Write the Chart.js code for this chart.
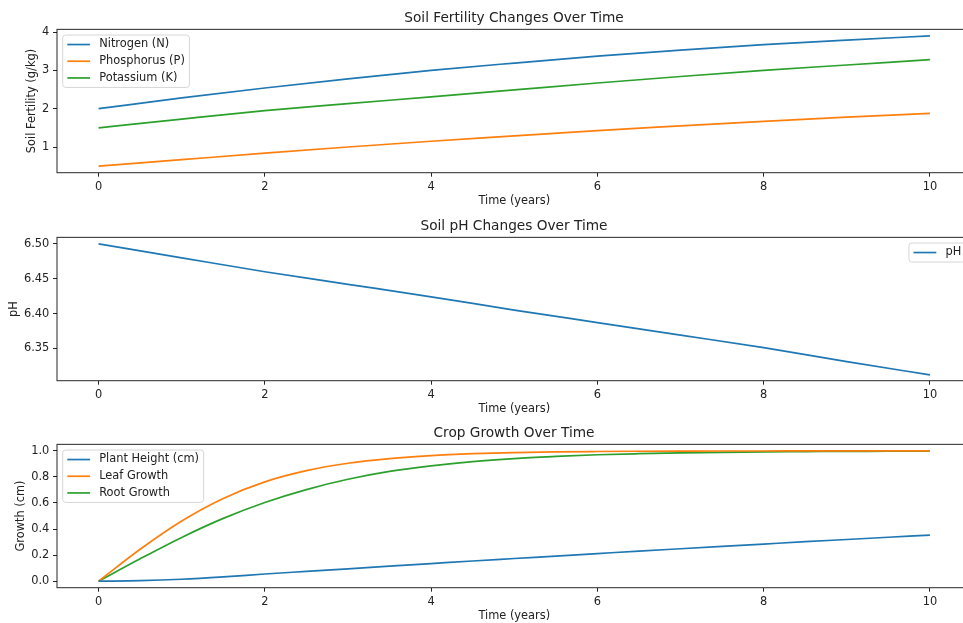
<!DOCTYPE html>
<html>
<head>
<meta charset="utf-8">
<script src="https://cdn.jsdelivr.net/npm/chart.js@4.4.1/dist/chart.umd.min.js"></script>
<style>
  html, body { margin: 0; padding: 0; background: #fff; overflow: hidden; width: 963px; height: 623px; }
  canvas { position: absolute; left: 0; }
</style>
</head>
<body>
<canvas id="fertChart" width="1028" height="208" style="top:0px"></canvas>
<canvas id="phChart" width="1028" height="208" style="top:208px"></canvas>
<canvas id="growthChart" width="1028" height="208" style="top:415px"></canvas>
<script>
// ---- data ----
const yearsCoarse = [0, 1, 2, 3, 4, 5, 6, 7, 8, 9, 10];
const yearsFine = [0, 0.5, 1, 1.5, 2, 2.5, 3, 3.5, 4, 4.5, 5, 5.5, 6, 6.5, 7, 7.5, 8, 8.5, 9, 9.5, 10];

const nitrogen   = [2.00, 2.28, 2.54, 2.78, 3.00, 3.19, 3.37, 3.53, 3.67, 3.79, 3.90];
const phosphorus = [0.50, 0.67, 0.84, 1.00, 1.15, 1.29, 1.43, 1.55, 1.67, 1.78, 1.88];
const potassium  = [1.50, 1.73, 1.95, 2.13, 2.31, 2.49, 2.67, 2.84, 3.00, 3.14, 3.28];

const soilPH = [6.500, 6.480, 6.460, 6.442, 6.424, 6.405, 6.387, 6.369, 6.351, 6.331, 6.312];

const plantHeight = [0, 0.004, 0.015, 0.033, 0.055, 0.075, 0.095, 0.115, 0.135, 0.155, 0.174,
                     0.193, 0.212, 0.231, 0.249, 0.267, 0.285, 0.303, 0.320, 0.337, 0.354];
const leafGrowth  = [0, 0.245, 0.462, 0.635, 0.762, 0.848, 0.905, 0.941, 0.964, 0.978, 0.987,
                     0.992, 0.995, 0.997, 0.998, 0.999, 0.999, 1.0, 1.0, 1.0, 1.0];
const rootGrowth  = [0, 0.172, 0.336, 0.482, 0.604, 0.703, 0.782, 0.842, 0.885, 0.918, 0.941,
                     0.957, 0.970, 0.978, 0.984, 0.989, 0.992, 0.994, 0.996, 0.997, 0.998];

const timeTicks = [0, 2, 4, 6, 8, 10];
const fertTicks = [1, 2, 3, 4];
const phTicks = [6.35, 6.40, 6.45, 6.50];
const growthTicks = [0, 0.2, 0.4, 0.6, 0.8, 1.0];

const BLUE = '#1f77b4', ORANGE = '#ff7f0e', GREEN = '#2ca02c';
const FONT = "'DejaVu Sans', sans-serif";
const INK = '#222';
const SPINE = 'rgba(0,0,0,0.85)';

function pts(xs, ys) {
  return xs.map((x, i) => ({ x: x, y: ys[i] }));
}

function line(label, xs, ys, color) {
  return {
    label: label,
    data: pts(xs, ys),
    borderColor: color,
    backgroundColor: color,
    borderWidth: 1.7,
    pointRadius: 0,
    cubicInterpolationMode: 'monotone'
  };
}

// axes frame + matplotlib style legend box
const frameAndLegend = {
  id: 'frameAndLegend',
  afterDatasetsDraw(chart, args, opts) {
    const ctx = chart.ctx, a = chart.chartArea;
    ctx.save();
    ctx.strokeStyle = SPINE;
    ctx.lineWidth = 1;
    ctx.strokeRect(a.left, a.top, a.right - a.left, a.bottom - a.top);

    const sets = chart.data.datasets;
    ctx.font = '11.4px ' + FONT;
    const textW = Math.max(...sets.map(d => ctx.measureText(d.label).width));
    const w = 4.6 + 22.8 + 9.1 + textW + 4.6;
    const h = 19 + (sets.length - 1) * 16.7;
    const left = opts.side === 'right' ? a.right - 5.7 - w : a.left + 5.7;
    const top = a.top + 5.7;

    ctx.beginPath();
    ctx.roundRect(left, top, w, h, 3);
    ctx.fillStyle = 'rgba(255,255,255,0.8)';
    ctx.fill();
    ctx.strokeStyle = '#d6d6d6';
    ctx.lineWidth = 1;
    ctx.stroke();

    sets.forEach((d, i) => {
      const y = top + 9.5 + i * 16.7;
      ctx.strokeStyle = d.borderColor;
      ctx.lineWidth = 1.7;
      ctx.beginPath();
      ctx.moveTo(left + 4.6, y);
      ctx.lineTo(left + 27.4, y);
      ctx.stroke();
      ctx.fillStyle = INK;
      ctx.textBaseline = 'middle';
      ctx.textAlign = 'left';
      ctx.fillText(d.label, left + 36.5, y);
    });
    ctx.restore();
  }
};

function xAxis() {
  return {
    type: 'linear',
    min: -0.5,
    max: 10.5,
    afterBuildTicks: s => { s.ticks = timeTicks.map(v => ({ value: v })); },
    afterFit: s => { s.height = 35.3; },
    grid: { drawOnChartArea: false, drawTicks: true, tickLength: 4, tickColor: SPINE, tickWidth: 1 },
    border: { display: false },
    ticks: { padding: 3.2, color: INK, maxRotation: 0, font: { family: FONT, size: 11.4 } },
    title: { display: true, text: 'Time (years)', color: INK, padding: { top: 0, bottom: 0 },
             font: { family: FONT, size: 11.4 } }
  };
}

function yAxis(title, titlePad, min, max, tickVals, digits) {
  return {
    type: 'linear',
    min: min,
    max: max,
    afterBuildTicks: s => { s.ticks = tickVals.map(v => ({ value: v })); },
    afterFit: s => { s.width = 57; },
    grid: { drawOnChartArea: false, drawTicks: true, tickLength: 4, tickColor: SPINE, tickWidth: 1 },
    border: { display: false },
    ticks: {
      padding: 3.7, color: INK, font: { family: FONT, size: 11.4 },
      callback: v => v.toFixed(digits)
    },
    title: { display: true, text: title, color: INK, padding: { top: titlePad, bottom: 0 },
             font: { family: FONT, size: 11.4 } }
  };
}

// empty right-hand axis: the figure is cut at the right edge, this keeps the
// plot area running past the window while the title stays centred on the axes
const spacerAxis = {
  position: 'right',
  afterFit: s => { s.width = 56.5; },
  grid: { display: false },
  border: { display: false },
  ticks: { display: false }
};

function makeChart(id, title, datasets, y, legendSide) {
  new Chart(document.getElementById(id), {
    type: 'line',
    data: { datasets: datasets },
    options: {
      responsive: false,
      animation: false,
      events: [],
      layout: { padding: 0 },
      scales: { x: xAxis(), y: y, spacer: spacerAxis },
      plugins: {
        legend: { display: false },
        tooltip: { enabled: false },
        title: {
          display: true, text: title, color: INK,
          font: { family: FONT, size: 13.7, weight: 'normal' },
          padding: { top: 10.1, bottom: 2.8 }
        },
        frameAndLegend: { side: legendSide }
      }
    },
    plugins: [frameAndLegend]
  });
}

makeChart('fertChart', 'Soil Fertility Changes Over Time', [
  line('Nitrogen (N)', yearsCoarse, nitrogen, BLUE),
  line('Phosphorus (P)', yearsCoarse, phosphorus, ORANGE),
  line('Potassium (K)', yearsCoarse, potassium, GREEN)
], yAxis('Soil Fertility (g/kg)', 24.9, 0.33, 4.07, fertTicks, 0), 'left');

makeChart('phChart', 'Soil pH Changes Over Time', [
  line('pH', yearsCoarse, soilPH, BLUE)
], yAxis('pH', 7.2, 6.3036, 6.5094, phTicks, 2), 'right');

makeChart('growthChart', 'Crop Growth Over Time', [
  line('Plant Height (cm)', yearsFine, plantHeight, BLUE),
  line('Leaf Growth', yearsFine, leafGrowth, ORANGE),
  line('Root Growth', yearsFine, rootGrowth, GREEN)
], yAxis('Growth (cm)', 13.9, -0.05, 1.05, growthTicks, 1), 'left');
</script>
</body>
</html>
